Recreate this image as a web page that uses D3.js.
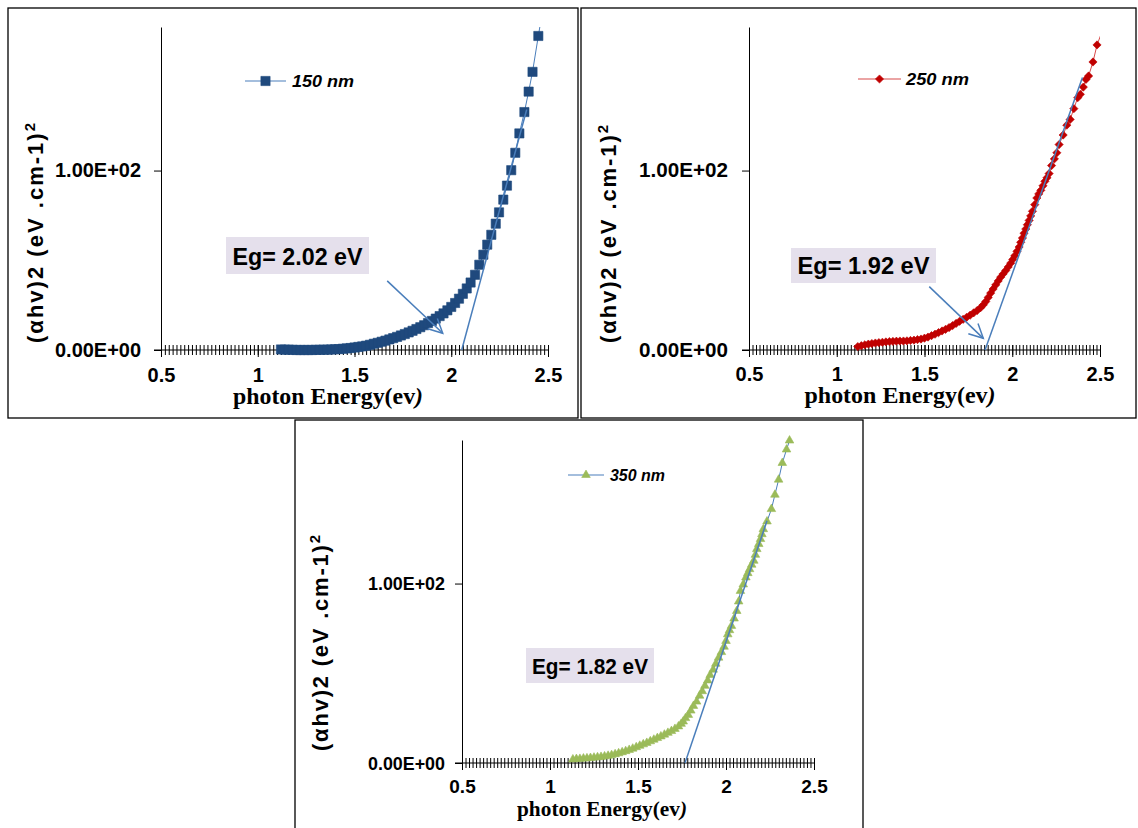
<!DOCTYPE html>
<html>
<head>
<meta charset="utf-8">
<script src="https://cdn.jsdelivr.net/npm/d3@7"></script>
<style>
  body { margin: 0; background: #fff; }
  svg { display: block; font-family: Arial, "Liberation Sans", sans-serif; }
</style>
</head>
<body>
<svg id="chart" width="1138" height="828"></svg>
<script>
// photon energy (eV) , (alpha h v)^2
const s150 = [
  [1.12,0.3],[1.14,0.2],[1.16,0.2],[1.18,0.1],[1.20,0.0],[1.22,0.0],[1.24,0.0],[1.26,0.0],[1.28,0.0],[1.30,0.1],
  [1.32,0.1],[1.34,0.2],[1.36,0.2],[1.38,0.3],[1.40,0.4],[1.42,0.5],[1.44,0.7],[1.46,0.9],[1.48,1.1],[1.50,1.4],
  [1.52,1.7],[1.54,2.0],[1.56,2.4],[1.58,2.9],[1.60,3.5],[1.62,4.0],[1.64,4.6],[1.66,5.2],[1.68,5.9],[1.70,6.6],
  [1.72,7.3],[1.74,8.1],[1.76,8.9],[1.78,9.8],[1.80,10.7],[1.82,11.7],[1.84,12.7],[1.86,13.8],[1.88,15.0],[1.90,16.2],
  [1.92,17.5],[1.94,18.9],[1.96,20.4],[1.98,22.1],[2.00,24.0],[2.02,26.2],[2.04,28.6],[2.06,31.3],[2.08,34.3],[2.10,37.6],
  [2.123,41.9],[2.145,47.5],[2.166,53.1],[2.186,58.7],[2.207,64.2],[2.23,70.4],[2.247,76.7],[2.269,83.8],[2.288,91.6],[2.31,100.2],
  [2.331,109.9],[2.352,120.7],[2.378,132.6],[2.40,144.0],[2.42,155.0],[2.45,175.0],[2.475,191.0]
]
const s250 = [
  [1.12,1.9],[1.14,2.4],[1.16,2.9],[1.18,3.3],[1.20,3.6],[1.22,3.9],[1.24,4.1],[1.26,4.3],[1.28,4.5],[1.30,4.7],
  [1.32,4.8],[1.34,4.9],[1.36,5.0],[1.38,5.0],[1.40,5.1],[1.42,5.3],[1.44,5.5],[1.46,5.8],[1.48,6.1],[1.50,6.6],
  [1.52,7.2],[1.54,8.0],[1.56,8.8],[1.58,9.7],[1.60,10.6],[1.62,11.5],[1.64,12.5],[1.66,13.6],[1.68,14.8],[1.70,16.0],
  [1.72,17.1],[1.74,18.2],[1.76,19.4],[1.78,20.7],[1.80,22.0],[1.82,23.6],[1.835,25.2],[1.849,27.0],[1.863,29.3],[1.877,31.7],
  [1.891,34.0],[1.906,36.3],[1.92,38.5],[1.934,40.6],[1.948,42.4],[1.963,44.3],[1.977,46.3],[1.991,48.4],[2.003,50.5],[2.014,52.5],
  [2.027,55.0],[2.039,57.4],[2.048,60.0],[2.058,62.4],[2.067,65.0],[2.077,67.4],[2.086,69.8],[2.096,72.2],[2.105,74.7],[2.115,77.3],
  [2.128,81.0],[2.14,84.7],[2.151,87.0],[2.163,89.0],[2.175,91.5],[2.186,94.0],[2.198,96.0],[2.21,98.3],[2.224,102.8],[2.24,106.5],
  [2.254,109.9],[2.267,114.5],[2.29,119.8],[2.311,125.3],[2.33,128.5],[2.351,134.5],[2.373,140.6],[2.388,142.5],[2.405,146.5],[2.42,150.8],
  [2.435,152.7],[2.46,160.5],[2.483,170.0],[2.51,177.0]
]
const s350 = [
  [1.13,2.0],[1.15,2.2],[1.17,2.3],[1.19,2.5],[1.21,2.6],[1.23,2.8],[1.25,3.0],[1.27,3.2],[1.29,3.4],[1.31,3.7],
  [1.33,4.0],[1.35,4.4],[1.37,4.9],[1.39,5.4],[1.41,6.0],[1.43,6.6],[1.45,7.3],[1.47,8.0],[1.49,8.8],[1.51,9.6],
  [1.53,10.4],[1.55,11.2],[1.57,12.1],[1.59,13.0],[1.61,13.9],[1.63,14.8],[1.65,15.8],[1.67,16.8],[1.69,17.8],[1.71,19.0],
  [1.73,20.4],[1.745,21.8],[1.757,23.1],[1.77,25.0],[1.786,26.8],[1.80,29.2],[1.815,31.8],[1.833,34.2],[1.85,37.5],[1.865,40.0],
  [1.88,43.0],[1.896,46.0],[1.91,49.0],[1.927,52.0],[1.942,55.3],[1.958,58.7],[1.974,61.8],[1.989,64.8],[2.00,68.0],[2.01,71.7],
  [2.02,74.0],[2.031,76.4],[2.046,80.5],[2.061,84.7],[2.072,90.0],[2.082,95.9],[2.098,99.5],[2.113,103.4],[2.124,105.8],[2.134,108.0],
  [2.146,110.5],[2.158,112.7],[2.167,116.0],[2.175,119.2],[2.186,122.0],[2.196,124.8],[2.204,127.5],[2.212,130.3],[2.233,134.6],[2.258,141.5],
  [2.278,149.5],[2.299,157.9],[2.32,167.2],[2.344,174.7],[2.361,179.7]
]

// linear fits (tangent lines) and arrows, in data units
const fit150 = [[2.054, 0], [2.39, 134]]
const fit250 = [[1.845, 0], [2.40, 151.8]]
const fit350 = [[1.767, 0], [2.233, 135]]
const arrow150 = [[1.669, 38.5], [1.956, 9.3]]
const arrow250 = [[1.527, 35.3], [1.835, 6.5]]

const seriesNames = ['150 nm', '250 nm', '350 nm']
const gapLabels = ['Eg= 2.02 eV', 'Eg= 1.92 eV', 'Eg= 1.82 eV']
const xTicks = [0.5, 1, 1.5, 2, 2.5]
const xTickLabels = ['0.5', '1', '1.5', '2', '2.5']
const yTicks = [0, 100]
const yTickLabels = ['0.00E+00', '1.00E+02']
const xDomain = [0.5, 2.5]
const yDomain = [0, 180]

const fitColor = '#4a7ebb'
const sans = 'Arial, "Liberation Sans", sans-serif'
const serif = '"Times New Roman", "Liberation Serif", serif'

const symbolDiamondSq = {
  draw(ctx, size) {
    const r = Math.sqrt(size / 2)
    ctx.moveTo(0, -r); ctx.lineTo(r, 0); ctx.lineTo(0, r); ctx.lineTo(-r, 0); ctx.closePath()
  }
}

const panels = [
  { id: 1, data: s150, fit: fit150, arrow: arrow150,
    frame: [8, 8, 570, 410], plot: { l: 161, r: 548, t: 27, b: 350 },
    symbol: d3.symbolSquare, mSize: 85, mColor: '#1f497d', lColor: '#4a7ebb',
    legend: { x1: 245, x2: 286, y: 81, tx: 292, ty: 87, tw: 62 },
    box: { x: 226, y: 237, w: 143, h: 37, ty: 265, tw: 130, fs: 23 },
    ytitle: { x: 35, y: 233, len: 220 }, xtitle: { x: 328, y: 404, len: 190, fs: 23 },
    ylab: { r: 141, w: 86, fs: 20 }, xlab: { y: 382, fs: 20 } },
  { id: 2, data: s250, fit: fit250, arrow: arrow250,
    frame: [581, 8, 555, 410], plot: { l: 749, r: 1100, t: 27, b: 350 },
    symbol: symbolDiamondSq, mSize: 34, mColor: '#c00000', lColor: '#d84a4a',
    legend: { x1: 858, x2: 901, y: 79, tx: 906, ty: 85, tw: 63 },
    box: { x: 791, y: 248, w: 145, h: 35, ty: 274, tw: 132, fs: 23 },
    ytitle: { x: 608, y: 234, len: 218 }, xtitle: { x: 900, y: 403, len: 191, fs: 23 },
    ylab: { r: 728, w: 89, fs: 20 }, xlab: { y: 381, fs: 20 } },
  { id: 3, data: s350, fit: fit350, arrow: null,
    frame: [295, 420, 568, 412], plot: { l: 462, r: 814, t: 440, b: 763 },
    symbol: d3.symbolTriangle, mSize: 32, mColor: '#9bbb59', lColor: '#4a7ebb',
    legend: { x1: 568, x2: 604, y: 475, tx: 610, ty: 481, tw: 55 },
    box: { x: 526, y: 648, w: 128, h: 35, ty: 674, tw: 116, fs: 22 },
    ytitle: { x: 320, y: 643, len: 216 }, xtitle: { x: 602, y: 816, len: 170, fs: 21 },
    ylab: { r: 445, w: 77, fs: 19 }, xlab: { y: 793, fs: 19 } }
]

const svg = d3.select('#chart')
const defs = svg.append('defs')

defs.append('marker')
  .attr('id', 'arrowhead')
  .attr('viewBox', '-16 -10 20 20')
  .attr('refX', 0).attr('refY', 0)
  .attr('markerWidth', 20).attr('markerHeight', 20)
  .attr('markerUnits', 'userSpaceOnUse')
  .attr('orient', 'auto')
  .append('path')
    .attr('d', 'M-14,-7 L0,0 L-14,7')
    .attr('fill', 'none')
    .attr('stroke', fitColor)
    .attr('stroke-width', 1.5)

panels.forEach((p, i) => drawPanel(p, i))

function drawPanel(p, i) {
  const g = svg.append('g')

  g.append('rect')
    .attr('x', p.frame[0]).attr('y', p.frame[1])
    .attr('width', p.frame[2]).attr('height', p.frame[3])
    .attr('fill', '#fff').attr('stroke', '#000').attr('stroke-width', 1.3)

  const x = d3.scaleLinear().domain(xDomain).range([p.plot.l, p.plot.r])
  const y = d3.scaleLinear().domain(yDomain).range([p.plot.b, p.plot.t])

  const clipId = 'clip' + p.id
  defs.append('clipPath').attr('id', clipId)
    .append('rect')
      .attr('x', p.plot.l).attr('y', p.plot.t)
      .attr('width', p.plot.r - p.plot.l).attr('height', p.plot.b - p.plot.t + 10)

  // x axis: minor cross ticks every 0.02
  const minor = d3.range(0.52, 2.5001, 0.02)
  const gx = g.append('g').attr('transform', `translate(0,${p.plot.b})`)
    .call(d3.axisBottom(x).tickValues(minor).tickSize(5).tickSizeOuter(0).tickFormat(''))
  gx.selectAll('.tick line').attr('y1', -5).attr('stroke', '#000')
  gx.select('.domain').attr('d', `M${p.plot.l - 7},0H${p.plot.r}`).attr('stroke', '#000')

  const gxMaj = g.append('g').attr('transform', `translate(0,${p.plot.b})`)
    .call(d3.axisBottom(x).tickValues(xTicks).tickSize(7).tickSizeOuter(0)
      .tickFormat((d, k) => xTickLabels[k]))
    .attr('font-family', sans)
    .attr('font-size', p.xlab.fs)
    .attr('font-weight', 'bold')
  gxMaj.select('.domain').remove()
  gxMaj.selectAll('.tick line').attr('y1', -5).attr('stroke', '#000')
  gxMaj.selectAll('.tick text').attr('y', p.xlab.y - p.plot.b).attr('dy', 0).attr('fill', '#000')

  // y axis
  const gy = g.append('g').attr('transform', `translate(${p.plot.l},0)`)
    .call(d3.axisLeft(y).tickValues(yTicks).tickSize(7).tickSizeOuter(0)
      .tickFormat((d, k) => yTickLabels[k]))
    .attr('font-family', sans)
    .attr('font-size', p.ylab.fs)
    .attr('font-weight', 'bold')
  gy.select('.domain').attr('stroke', '#000')
  gy.selectAll('.tick line').attr('stroke', '#000')
  gy.selectAll('.tick text')
    .attr('x', p.ylab.r - p.plot.l)
    .attr('fill', '#000')
    .attr('textLength', p.ylab.w)
    .attr('lengthAdjust', 'spacingAndGlyphs')

  // series line + markers
  const line = d3.line().x(d => x(d[0])).y(d => y(d[1]))
  g.append('path')
    .datum(p.data)
    .attr('clip-path', `url(#${clipId})`)
    .attr('d', line)
    .attr('fill', 'none')
    .attr('stroke', p.lColor)
    .attr('stroke-width', 1)

  const sym = d3.symbol().type(p.symbol).size(p.mSize)
  g.append('g').selectAll('path')
    .data(p.data.filter(d => d[0] <= xDomain[1] && d[1] <= yDomain[1]))
    .join('path')
      .attr('transform', d => `translate(${x(d[0])},${y(d[1])})`)
      .attr('d', sym)
      .attr('fill', p.mColor)
      .attr('stroke', p.mColor)
      .attr('stroke-width', 0.6)

  // tangent line
  g.append('line')
    .attr('x1', x(p.fit[0][0])).attr('y1', y(p.fit[0][1]))
    .attr('x2', x(p.fit[1][0])).attr('y2', y(p.fit[1][1]))
    .attr('stroke', fitColor).attr('stroke-width', 1.5)

  if (p.arrow) {
    g.append('line')
      .attr('x1', x(p.arrow[0][0])).attr('y1', y(p.arrow[0][1]))
      .attr('x2', x(p.arrow[1][0])).attr('y2', y(p.arrow[1][1]))
      .attr('stroke', fitColor).attr('stroke-width', 1.5)
      .attr('marker-end', 'url(#arrowhead)')
  }

  // Eg label
  g.append('rect')
    .attr('x', p.box.x).attr('y', p.box.y)
    .attr('width', p.box.w).attr('height', p.box.h)
    .attr('fill', '#e5e0ec')
  g.append('text')
    .attr('x', p.box.x + p.box.w / 2).attr('y', p.box.ty)
    .attr('text-anchor', 'middle')
    .attr('font-size', p.box.fs).attr('font-weight', 'bold')
    .attr('textLength', p.box.tw).attr('lengthAdjust', 'spacingAndGlyphs')
    .text(gapLabels[i])

  // legend
  g.append('line')
    .attr('x1', p.legend.x1).attr('x2', p.legend.x2)
    .attr('y1', p.legend.y).attr('y2', p.legend.y)
    .attr('stroke', p.lColor).attr('stroke-width', 1.2)
  g.append('path')
    .attr('transform', `translate(${(p.legend.x1 + p.legend.x2) / 2},${p.legend.y})`)
    .attr('d', sym)
    .attr('fill', p.mColor).attr('stroke', p.mColor).attr('stroke-width', 0.6)
  g.append('text')
    .attr('x', p.legend.tx).attr('y', p.legend.ty)
    .attr('font-size', 17).attr('font-weight', 'bold').attr('font-style', 'italic')
    .attr('textLength', p.legend.tw).attr('lengthAdjust', 'spacingAndGlyphs')
    .text(seriesNames[i])

  // axis titles
  const yt = g.append('text')
    .attr('transform', `translate(${p.ytitle.x},${p.ytitle.y}) rotate(-90)`)
    .attr('dy', '0.36em')
    .attr('text-anchor', 'middle')
    .attr('font-size', 22).attr('font-weight', 'bold')
    .attr('textLength', p.ytitle.len).attr('lengthAdjust', 'spacing')
  yt.append('tspan').text('(\u03b1hv)2  (eV .cm-1)')
  yt.append('tspan').attr('font-size', 15).attr('dy', '-0.5em').text('2')

  const xt = g.append('text')
    .attr('x', p.xtitle.x).attr('y', p.xtitle.y)
    .attr('text-anchor', 'middle')
    .style('font-family', serif)
    .attr('font-size', p.xtitle.fs).attr('font-weight', 'bold')
    .attr('textLength', p.xtitle.len).attr('lengthAdjust', 'spacingAndGlyphs')
  xt.append('tspan').text('photon Energy(ev')
  xt.append('tspan').attr('font-style', 'italic').text(')')
}
</script>
</body>
</html>
